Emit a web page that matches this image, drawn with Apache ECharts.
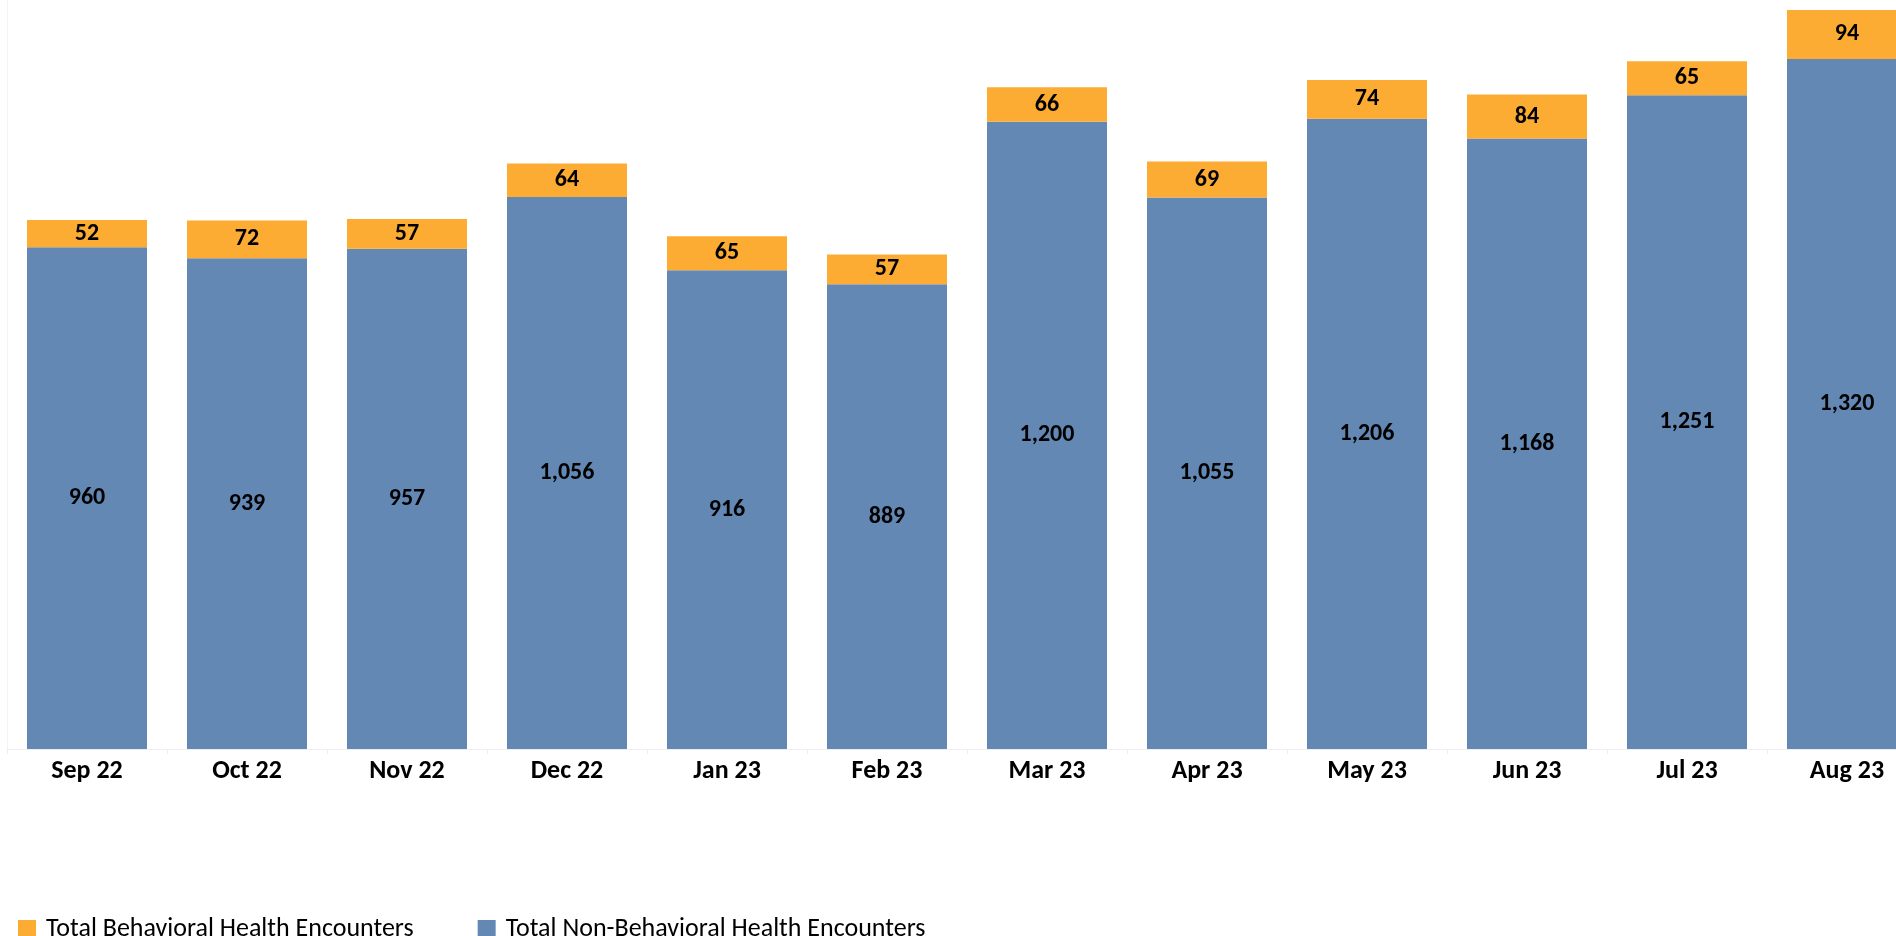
<!DOCTYPE html>
<html>
<head>
<meta charset="utf-8">
<script src="https://cdn.jsdelivr.net/npm/echarts@6/dist/echarts.min.js"></script>
<style>
html,body{margin:0;padding:0;background:#fff;}
#chart{width:1896px;height:936px;}
</style>
</head>
<body>
<div id="chart"></div>
<script>
const categories = ['Sep 22','Oct 22','Nov 22','Dec 22','Jan 23','Feb 23','Mar 23','Apr 23','May 23','Jun 23','Jul 23','Aug 23'];
const nonBehavioral = [960, 939, 957, 1056, 916, 889, 1200, 1055, 1206, 1168, 1251, 1320];
const behavioral = [52, 72, 57, 64, 65, 57, 66, 69, 74, 84, 65, 94];
const seriesNames = ['Total Behavioral Health Encounters', 'Total Non-Behavioral Health Encounters'];

const FONT = "Carlito, Lato, 'Open Sans', sans-serif";
const chart = echarts.init(document.getElementById('chart'), null, {renderer: 'canvas'});
const fmt = v => Number(v).toLocaleString('en-US');

chart.setOption({
  animation: false,
  backgroundColor: '#ffffff',
  grid: {left: 7, width: 1920, top: 0, bottom: 187, containLabel: false, outerBoundsMode: 'none'},
  legend: {
    data: [seriesNames[0], seriesNames[1]],
    left: 13, top: 911,
    icon: 'rect', itemWidth: 18, itemHeight: 18, itemGap: 64,
    textStyle: {fontFamily: FONT, fontSize: 26, color: '#000', padding: [0,0,0,5]}
  },
  xAxis: {
    type: 'category',
    data: categories,
    axisLine: {show: true, lineStyle: {color: '#eeeeee', width: 1}},
    axisTick: {show: true, length: 5, lineStyle: {color: '#eeeeee'}},
    axisLabel: {fontFamily: FONT, fontSize: 26, fontWeight: 'bold', color: '#000', margin: 9}
  },
  yAxis: {
    type: 'value', min: 0, max: 1433,
    axisLine: {show: true, lineStyle: {color: '#f3f3f3'}},
    axisLabel: {show: false}, axisTick: {show: false},
    splitLine: {show: false}
  },
  series: [
    {
      name: seriesNames[1], type: 'bar', stack: 'total',
      data: nonBehavioral, barCategoryGap: '25%',
      itemStyle: {color: '#6488B4'},
      label: {show: true, position: 'inside', formatter: p => fmt(p.value),
        fontFamily: FONT, fontSize: 24, fontWeight: 'bold', color: '#000'}
    },
    {
      name: seriesNames[0], type: 'bar', stack: 'total',
      data: behavioral, barCategoryGap: '25%',
      itemStyle: {color: '#FDAC33'},
      label: {show: true, position: 'inside', formatter: p => fmt(p.value),
        fontFamily: FONT, fontSize: 24, fontWeight: 'bold', color: '#000'}
    }
  ]
});
</script>
</body>
</html>
